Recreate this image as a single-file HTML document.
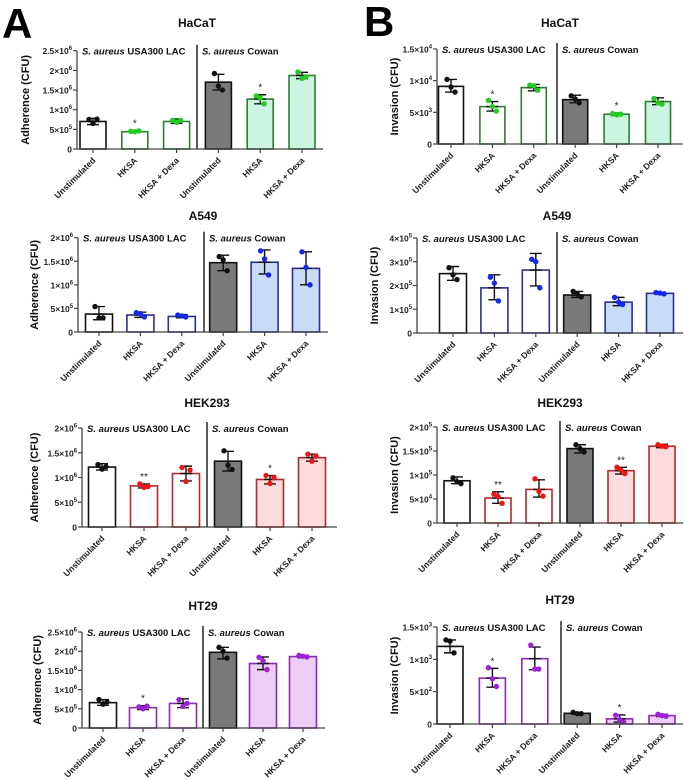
<!DOCTYPE html>
<html><head><meta charset="utf-8"><style>
body{margin:0;background:#fff;}
svg{display:block;font-family:"Liberation Sans",Arial,sans-serif;}
</style></head><body>
<svg id="fig" width="685" height="781" viewBox="0 0 685 781">
<text x="2" y="38" font-size="42" font-weight="bold">A</text>
<text x="364" y="36" font-size="42" font-weight="bold">B</text>
</svg>
<script>
const categories = ["Unstimulated","HKSA","HKSA + Dexa","Unstimulated","HKSA","HKSA + Dexa"];
const groupLabels = ["USA300 LAC","Cowan"];

// A HaCaT
const aHacatMeans=[7.0e5,4.4e5,7.0e5,1.7e6,1.27e6,1.87e6];
const aHacatLo=[6.2e5,4.2e5,6.5e5,1.5e6,1.15e6,1.79e6];
const aHacatHi=[7.8e5,4.7e5,7.6e5,1.9e6,1.38e6,1.95e6];
const aHacatPts=[[7.5e5,6.5e5,7.6e5],[4.5e5,4.4e5,4.6e5],[7.3e5,6.8e5,7.3e5],[1.92e6,1.6e6,1.5e6],[1.35e6,1.3e6,1.15e6],[1.96e6,1.8e6,1.84e6]];
const aHacatSig=["","*","","","*",""];
const aHacatTicks=[0,5e5,1e6,1.5e6,2e6,2.5e6];
const aHacatTickLabels=["0","5×10^5","1×10^6","1.5×10^6","2×10^6","2.5×10^6"];
// A A549
const aA549Means=[3.8e5,3.6e5,3.3e5,1.47e6,1.48e6,1.35e6];
const aA549Lo=[2.6e5,3.1e5,3.0e5,1.3e6,1.23e6,1.0e6];
const aA549Hi=[5.4e5,4.2e5,3.7e5,1.63e6,1.74e6,1.7e6];
const aA549Pts=[[5.4e5,3.0e5,3.0e5],[4.1e5,3.9e5,3.2e5],[3.6e5,3.4e5,3.2e5],[1.6e6,1.53e6,1.3e6],[1.72e6,1.55e6,1.21e6],[1.7e6,1.37e6,1.0e6]];
const aA549Sig=["","","","","",""];
const aA549Ticks=[0,5e5,1e6,1.5e6,2e6];
const aA549TickLabels=["0","5×10^5","1×10^6","1.5×10^6","2×10^6"];
// A HEK293
const aHekMeans=[1.21e6,8.3e5,1.08e6,1.33e6,9.6e5,1.4e6];
const aHekLo=[1.15e6,7.9e5,9.3e5,1.13e6,8.7e5,1.33e6];
const aHekHi=[1.28e6,8.7e5,1.23e6,1.53e6,1.04e6,1.47e6];
const aHekPts=[[1.26e6,1.17e6,1.22e6],[8.7e5,8.0e5,8.2e5],[1.2e6,9.2e5,1.15e6],[1.54e6,1.25e6,1.16e6],[1.04e6,8.8e5,1.0e6],[1.47e6,1.33e6,1.43e6]];
const aHekSig=["","**","","","*",""];
const aHekTicks=[0,5e5,1e6,1.5e6,2e6];
const aHekTickLabels=["0","5×10^5","1×10^6","1.5×10^6","2×10^6"];
// A HT29
const aHt29Means=[6.6e5,5.3e5,6.4e5,1.97e6,1.68e6,1.86e6];
const aHt29Lo=[5.9e5,4.8e5,5.3e5,1.8e6,1.52e6,1.83e6];
const aHt29Hi=[7.4e5,5.8e5,7.6e5,2.1e6,1.85e6,1.89e6];
const aHt29Pts=[[7.4e5,6.2e5,6.8e5],[5.5e5,5.0e5,5.7e5],[7.4e5,5.6e5,6.4e5],[2.1e6,2.0e6,1.82e6],[1.84e6,1.75e6,1.52e6],[1.89e6,1.87e6,1.85e6]];
const aHt29Sig=["","*","","","",""];
const aHt29Ticks=[0,5e5,1e6,1.5e6,2e6,2.5e6];
const aHt29TickLabels=["0","5×10^5","1×10^6","1.5×10^6","2×10^6","2.5×10^6"];
// B HaCaT
const bHacatMeans=[9.1e3,5.9e3,8.9e3,7.0e3,4.7e3,6.7e3];
const bHacatLo=[8.2e3,5.2e3,8.4e3,6.5e3,4.5e3,6.2e3];
const bHacatHi=[10.2e3,6.7e3,9.4e3,7.7e3,4.9e3,7.3e3];
const bHacatPts=[[10.2e3,9.0e3,8.2e3],[6.9e3,5.9e3,5.2e3],[9.3e3,9.2e3,8.5e3],[7.6e3,7.1e3,6.5e3],[4.8e3,4.6e3,4.7e3],[7.2e3,6.5e3,6.3e3]];
const bHacatSig=["","*","","","*",""];
const bHacatTicks=[0,5e3,1e4,1.5e4];
const bHacatTickLabels=["0","5×10^3","1×10^4","1.5×10^4"];
// B A549
const bA549Means=[2.5e5,1.9e5,2.65e5,1.6e5,1.3e5,1.67e5];
const bA549Lo=[2.22e5,1.4e5,1.98e5,1.5e5,1.15e5,1.63e5];
const bA549Hi=[2.8e5,2.45e5,3.35e5,1.75e5,1.5e5,1.72e5];
const bA549Pts=[[2.75e5,2.45e5,2.25e5],[2.35e5,2.1e5,1.35e5],[3.1e5,3.0e5,1.9e5],[1.75e5,1.65e5,1.52e5],[1.5e5,1.3e5,1.2e5],[1.7e5,1.68e5,1.65e5]];
const bA549Sig=["","","","","",""];
const bA549Ticks=[0,1e5,2e5,3e5,4e5];
const bA549TickLabels=["0","1×10^5","2×10^5","3×10^5","4×10^5"];
// B HEK293
const bHekMeans=[8.8e4,5.2e4,7.0e4,1.55e5,1.09e5,1.6e5];
const bHekLo=[8.2e4,4.1e4,5.4e4,1.46e5,1.02e5,1.57e5];
const bHekHi=[9.6e4,6.5e4,9.0e4,1.63e5,1.16e5,1.64e5];
const bHekPts=[[9.4e4,8.6e4,8.2e4],[6.0e4,5.5e4,4.1e4],[9.2e4,6.6e4,5.6e4],[1.63e5,1.55e5,1.48e5],[1.16e5,1.1e5,1.03e5],[1.63e5,1.6e5,1.59e5]];
const bHekSig=["","**","","","**",""];
const bHekTicks=[0,5e4,1e5,1.5e5,2e5];
const bHekTickLabels=["0","5×10^4","1×10^5","1.5×10^5","2×10^5"];
// B HT29
const bHt29Means=[1200,710,1010,165,80,130];
const bHt29Lo=[1100,570,840,150,30,115];
const bHt29Hi=[1300,860,1190,180,140,150];
const bHt29Pts=[[1300,1280,1100],[870,700,580],[1220,850,850],[180,160,160],[135,70,30],[150,130,120]];
const bHt29Sig=["","*","","","*",""];
const bHt29Ticks=[0,500,1000,1500];
const bHt29TickLabels=["0","5×10^2","1×10^3","1.5×10^3"];

const svg=document.getElementById('fig');
const NS='http://www.w3.org/2000/svg';
function mk(tag,attrs,parent){const e=document.createElementNS(NS,tag);for(const k in attrs)e.setAttribute(k,attrs[k]);(parent||svg).appendChild(e);return e;}

const palettes={
 green:{stroke:'#2e7d32',fill:'#ccf5e1',pt:'#22cc22'},
 blue:{stroke:'#2a2e9a',fill:'#c8dcf5',pt:'#1428ee'},
 red:{stroke:'#b02a2a',fill:'#fcdcdc',pt:'#ee1515'},
 purple:{stroke:'#8a2ab0',fill:'#eccdf6',pt:'#a020d8'}
};

function tickText(g,x,y,lab,fs){
  const t=mk('text',{x:x,y:y,'text-anchor':'end','font-size':fs,'font-weight':'bold',fill:'#222'},g);
  
  
  const parts=lab.split('^');
  t.appendChild(document.createTextNode(parts[0]));
  if(parts[1]){const s=mk('tspan',{'font-size':fs*0.7,'dy':'-4'},t);s.textContent=parts[1];}
}

function panel(c){
  const g=mk('g',{});
  
  
  const max=c.ticks[c.ticks.length-1];
  const y=v=>c.y0-(v/max)*(c.y0-c.yTop);
  const xc=i=>c.c0+i*c.step;
  const pal=palettes[c.pal];
  const t=mk('text',{x:c.tx,y:c.ty,'text-anchor':'middle','font-size':'12','font-weight':'bold',fill:'#111'},g);
  
  
  t.textContent=c.title;
  c.means.forEach((m,i)=>{
    const cow=i>=3, unst=(i%3===0);
    const fill=unst?(cow?'#7a7a7a':'#fff'):(cow?pal.fill:'#fff');
    const st=unst?'#111':pal.stroke;
    const r=mk('rect',{x:xc(i)-c.bw/2,y:y(m),width:c.bw,height:c.y0-y(m),fill:fill,stroke:st,'stroke-width':1.6},g);
    
    
  });
  c.means.forEach((m,i)=>{
    const x=xc(i);
    const e=mk('path',{d:`M${x},${y(c.lo[i])}V${y(c.hi[i])}M${x-6},${y(c.lo[i])}H${x+6}M${x-6},${y(c.hi[i])}H${x+6}M${x-6},${y(m)}H${x+6}`,stroke:'#111','stroke-width':1.4,fill:'none'},g);
    
    
    const offs=[-4,0,4];
    c.pts[i].forEach((p,j)=>{
      const d=mk('circle',{cx:x+offs[j],cy:y(p),r:2.7,fill:(i%3===0)?'#111':pal.pt},g);
      
      
    });
    if(c.sig[i]){
      const s=mk('text',{x:x,y:y(c.hi[i])-4,'text-anchor':'middle','font-size':'10',fill:'#222'},g);
      
      
      s.textContent=c.sig[i];
    }
  });
  const ax=mk('path',{d:`M${c.ax},${c.yTop}V${c.y0}H${c.xr}`,stroke:'#444','stroke-width':1.3,fill:'none'},g);
  
  
  const dv=mk('line',{x1:c.div,x2:c.div,y1:c.yTop-6,y2:c.y0,stroke:'#333','stroke-width':1.6},g);
  
  
  const fs=c.tfs||8.5;
  c.ticks.forEach((v,k)=>{
    const tk=mk('line',{x1:c.ax-4,x2:c.ax,y1:y(v),y2:y(v),stroke:'#444','stroke-width':1.2},g);
    
    
    tickText(g,c.ax-5,y(v)+3.5,c.tickLabels[k],fs);
  });
  c.means.forEach((m,i)=>{
    const x=xc(i);
    const tk=mk('line',{x1:x,x2:x,y1:c.y0,y2:c.y0+4,stroke:'#444','stroke-width':1.2},g);
    
    
    const l=mk('text',{x:x+3,y:c.y0+12,'text-anchor':'end','font-size':'8.5','font-weight':'bold',fill:'#222',transform:`rotate(-45 ${x+3} ${c.y0+12})`},g);
    
    
    l.textContent=categories[i];
  });
  [[c.ax+5,0],[c.div+5,1]].forEach(([gx,k])=>{
    const gl=mk('text',{x:gx,y:c.yTop+4,'font-size':'9.5','font-weight':'bold',fill:'#111'},g);
    
    
    const it=mk('tspan',{'font-style':'italic'},gl);it.textContent='S. aureus ';
    const rest=mk('tspan',{},gl);rest.textContent=groupLabels[k];
  });
  const yt=mk('text',{x:c.ylx,y:(c.yTop+c.y0)/2,'text-anchor':'middle','font-size':'11','font-weight':'bold',fill:'#111',transform:`rotate(-90 ${c.ylx} ${(c.yTop+c.y0)/2})`},g);
  
  
  yt.textContent=c.ytitle;
}

const AD='Adherence (CFU)',IN='Invasion (CFU)';
panel({name:'chart-a-hacat',title:'HaCaT',tx:197,ty:27,ax:77,yTop:50.7,y0:149,xr:323,div:197,c0:93,step:41.8,bw:26,pal:'green',ylx:29,ytitle:AD,means:aHacatMeans,lo:aHacatLo,hi:aHacatHi,pts:aHacatPts,sig:aHacatSig,ticks:aHacatTicks,tickLabels:aHacatTickLabels});
panel({name:'chart-a-a549',title:'A549',tx:203,ty:220,ax:78,yTop:237.7,y0:332,xr:328,div:204,c0:99,step:41.4,bw:27,pal:'blue',ylx:38,ytitle:AD,means:aA549Means,lo:aA549Lo,hi:aA549Hi,pts:aA549Pts,sig:aA549Sig,ticks:aA549Ticks,tickLabels:aA549TickLabels});
panel({name:'chart-a-hek293',title:'HEK293',tx:207,ty:407,ax:82,yTop:428,y0:527,xr:337,div:207,c0:102,step:42,bw:27,pal:'red',ylx:38,ytitle:AD,means:aHekMeans,lo:aHekLo,hi:aHekHi,pts:aHekPts,sig:aHekSig,ticks:aHekTicks,tickLabels:aHekTickLabels});
panel({name:'chart-a-ht29',title:'HT29',tx:203,ty:610,ax:82,yTop:632,y0:728,xr:325,div:203,c0:103,step:40,bw:27,pal:'purple',ylx:41,ytitle:AD,means:aHt29Means,lo:aHt29Lo,hi:aHt29Hi,pts:aHt29Pts,sig:aHt29Sig,ticks:aHt29Ticks,tickLabels:aHt29TickLabels});
panel({name:'chart-b-hacat',title:'HaCaT',tx:560,ty:27,ax:437,yTop:49,y0:144,xr:683,div:557,c0:451,step:41.4,bw:25,pal:'green',ylx:398,ytitle:IN,means:bHacatMeans,lo:bHacatLo,hi:bHacatHi,pts:bHacatPts,sig:bHacatSig,ticks:bHacatTicks,tickLabels:bHacatTickLabels});
panel({name:'chart-b-a549',title:'A549',tx:557,ty:220,ax:417,yTop:238,y0:333,xr:683,div:557,c0:453,step:41.4,bw:27,pal:'blue',ylx:378,ytitle:IN,means:bA549Means,lo:bA549Lo,hi:bA549Hi,pts:bA549Pts,sig:bA549Sig,ticks:bA549Ticks,tickLabels:bA549TickLabels});
panel({name:'chart-b-hek293',title:'HEK293',tx:560,ty:407,ax:437,yTop:427,y0:523,xr:683,div:560,c0:457,step:41,bw:26,pal:'red',ylx:398,ytitle:IN,means:bHekMeans,lo:bHekLo,hi:bHekHi,pts:bHekPts,sig:bHekSig,ticks:bHekTicks,tickLabels:bHekTickLabels});
panel({name:'chart-b-ht29',title:'HT29',tx:560,ty:604,ax:437,yTop:627,y0:724,xr:683,div:561,c0:450,step:42.4,bw:26,pal:'purple',ylx:398,ytitle:IN,means:bHt29Means,lo:bHt29Lo,hi:bHt29Hi,pts:bHt29Pts,sig:bHt29Sig,ticks:bHt29Ticks,tickLabels:bHt29TickLabels});
</script>
</body></html>
